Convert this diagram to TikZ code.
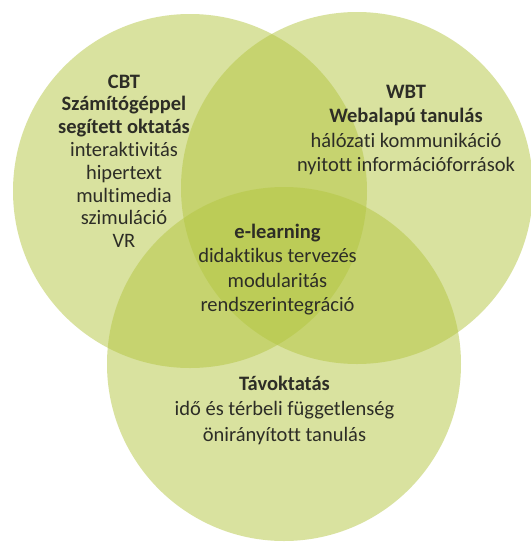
\documentclass[tikz,border=0pt]{standalone}
\usepackage{fontspec}
\setmainfont{Carlito}[Ligatures={NoCommon}]
\definecolor{vgreen}{RGB}{180,198,65}
\definecolor{vtext}{RGB}{45,45,38}
\begin{document}
\begin{tikzpicture}[x=1pt,y=-1pt,
  circ/.style={circle,inner sep=0pt,fill=vgreen,fill opacity=0.5,draw=none},
  lbl/.style={anchor=base,text=vtext,inner sep=0pt,font=\fontsize{20.5}{24}\selectfont},
  hdr/.style={lbl,font=\fontsize{20.5}{24}\selectfont\bfseries}]
\useasboundingbox (0,0) rectangle (531,542);
\fill[white] (0,0) rectangle (531,542);
% circles
\node[circ,minimum size=354pt] (cbtc) at (190,191) {};
\node[circ,minimum size=352pt] (wbtc) at (357,188) {};
\node[circ,minimum size=354pt] (tavc) at (284,364) {};
% CBT block
\node[hdr] (cbt1) at (124,88) {CBT};
\node[hdr] (cbt2) at (124,110.8) {Számítógéppel};
\node[hdr] (cbt3) at (124,133.6) {segített oktatás};
\node[lbl] (cbt4) at (124,156.4) {interaktivitás};
\node[lbl] (cbt5) at (124,179.2) {hipertext};
\node[lbl] (cbt6) at (124,202) {multimedia};
\node[lbl] (cbt7) at (124,224.8) {szimuláció};
\node[lbl] (cbt8) at (124,247.6) {VR};
% WBT block
\node[hdr] (wbt1) at (406,98) {WBT};
\node[hdr] (wbt2) at (406,122.5) {Webalapú tanulás};
\node[lbl] (wbt3) at (406,147) {hálózati kommunikáció};
\node[lbl] (wbt4) at (406,171.5) {nyitott információforrások};
% e-learning block
\node[hdr] (el1) at (277.5,238) {e-learning};
\node[lbl] (el2) at (277.5,262.5) {didaktikus tervezés};
\node[lbl] (el3) at (277.5,287) {modularitás};
\node[lbl] (el4) at (277.5,311.5) {rendszerintegráció};
% Tavoktatas block
\node[hdr] (tav1) at (284.5,390) {Távoktatás};
\node[lbl] (tav2) at (284.5,415.5) {idő és térbeli függetlenség};
\node[lbl] (tav3) at (284.5,441) {önirányított tanulás};
\end{tikzpicture}
\end{document}
